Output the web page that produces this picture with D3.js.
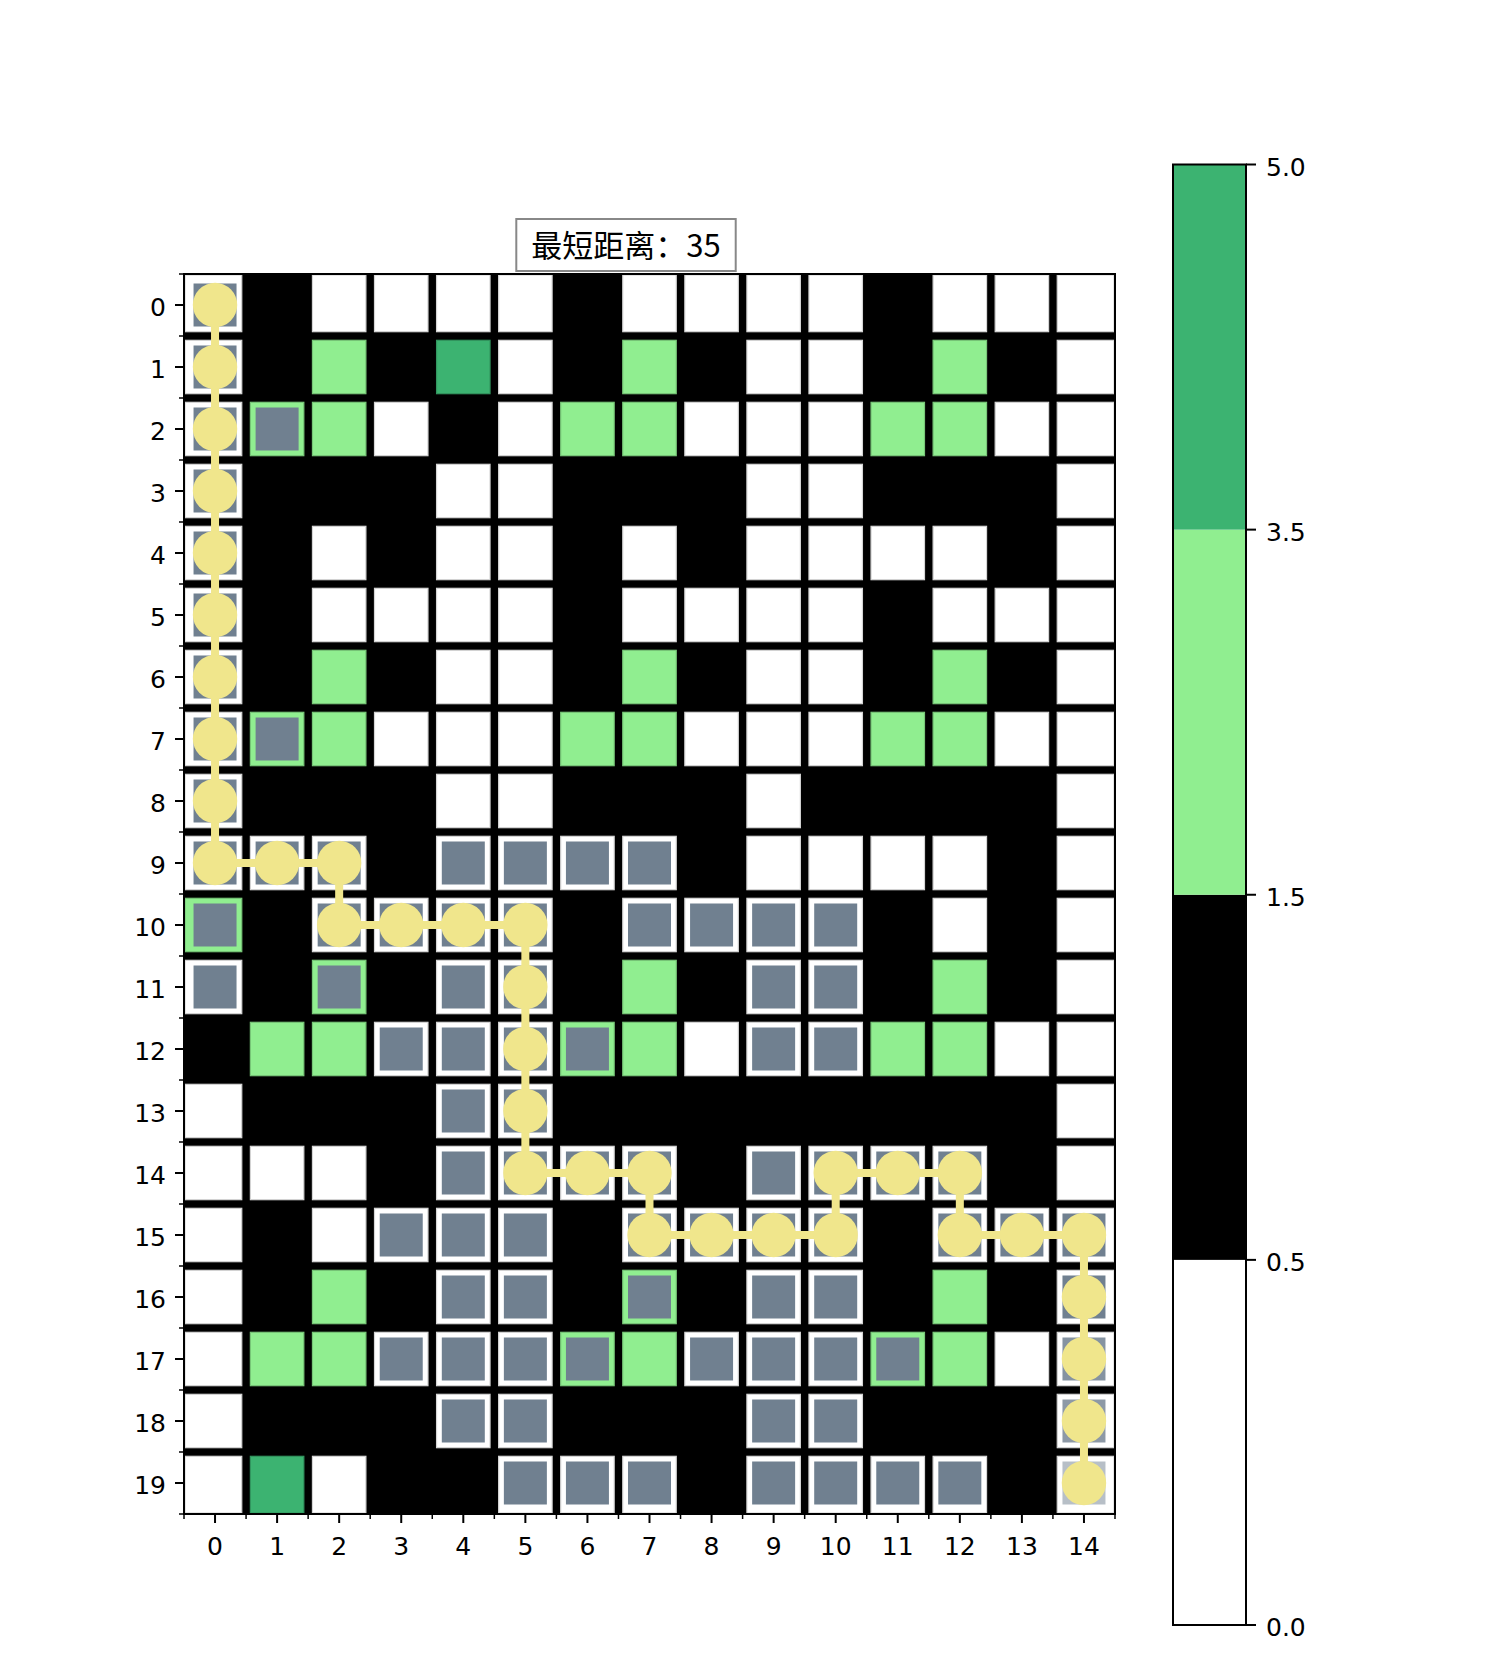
<!DOCTYPE html>
<html>
<head>
<meta charset="utf-8">
<script src="https://cdn.jsdelivr.net/npm/d3@7/dist/d3.min.js"></script>
<style>
  body { margin: 0; background: #fff; }
  text { font-family: "DejaVu Sans", sans-serif; }
</style>
</head>
<body>
<div id="container"></div>
<script>
// grid values: 0 free, 1 wall, 2 light cost, 4 heavy cost
let grid = [
  [0,1,0,0,0,0,1,0,0,0,0,1,0,0,0],
  [0,1,2,1,4,0,1,2,1,0,0,1,2,1,0],
  [0,2,2,0,1,0,2,2,0,0,0,2,2,0,0],
  [0,1,1,1,0,0,1,1,1,0,0,1,1,1,0],
  [0,1,0,1,0,0,1,0,1,0,0,0,0,1,0],
  [0,1,0,0,0,0,1,0,0,0,0,1,0,0,0],
  [0,1,2,1,0,0,1,2,1,0,0,1,2,1,0],
  [0,2,2,0,0,0,2,2,0,0,0,2,2,0,0],
  [0,1,1,1,0,0,1,1,1,0,1,1,1,1,0],
  [0,0,0,1,0,0,0,0,1,0,0,0,0,1,0],
  [2,1,0,0,0,0,1,0,0,0,0,1,0,1,0],
  [0,1,2,1,0,0,1,2,1,0,0,1,2,1,0],
  [1,2,2,0,0,0,2,2,0,0,0,2,2,0,0],
  [0,1,1,1,0,0,1,1,1,1,1,1,1,1,0],
  [0,0,0,1,0,0,0,0,1,0,0,0,0,1,0],
  [0,1,0,0,0,0,1,0,0,0,0,1,0,0,0],
  [0,1,2,1,0,0,1,2,1,0,0,1,2,1,0],
  [0,2,2,0,0,0,2,2,0,0,0,2,2,0,0],
  [0,1,1,1,0,0,1,1,1,0,0,1,1,1,0],
  [0,4,0,1,1,0,0,0,1,0,0,0,0,1,0]
];

// visited cells, column indices per row
let visitedRows = [
  [0], [0], [0,1], [0], [0], [0], [0], [0,1], [0],
  [0,1,2,4,5,6,7],
  [0,2,3,4,5,7,8,9,10],
  [0,2,4,5,9,10],
  [3,4,5,6,9,10],
  [4,5],
  [4,5,6,7,9,10,11,12],
  [3,4,5,7,8,9,10,12,13,14],
  [4,5,7,9,10,14],
  [3,4,5,6,8,9,10,11,14],
  [4,5,9,10,14],
  [5,6,7,9,10,11,12,14]
];
// last visited squares that are still fading in: [row, col, opacity]
let fading = [[17,14,0.85],[18,14,0.8],[19,14,0.5]];

// shortest path as [row, col]
let path = [
  [0,0],[1,0],[2,0],[3,0],[4,0],[5,0],[6,0],[7,0],[8,0],[9,0],
  [9,1],[9,2],[10,2],[10,3],[10,4],[10,5],[11,5],[12,5],[13,5],[14,5],
  [14,6],[14,7],[15,7],[15,8],[15,9],[15,10],[14,10],[14,11],[14,12],
  [15,12],[15,13],[15,14],[16,14],[17,14],[18,14],[19,14]
];

let cbBounds = [0, 0.5, 1.5, 3.5, 5.0];
let cbColors = ["white", "black", "lightgreen", "mediumseagreen"];
let cbLabels = ["0.0", "0.5", "1.5", "3.5", "5.0"];
let title = "最短距离：" + (path.length - 1);

let width = 1497;
let height = 1679;
let nRows = grid.length;
let nCols = grid[0].length;
let fontSize = 25;

let svg = d3.select("#container")
  .append("svg")
  .attr("width", width)
  .attr("height", height);

let x = d3.scaleLinear().domain([-0.5, nCols - 0.5]).range([184, 1115]);
let y = d3.scaleLinear().domain([-0.5, nRows - 0.5]).range([274, 1514]);

let color = d3.scaleThreshold()
  .domain(cbBounds.slice(1, -1))
  .range(cbColors);

let gap = 8.6;

let cells = [];
grid.forEach(function (row, r) {
  row.forEach(function (v, c) {
    cells.push({ r: r, c: c, v: v });
  });
});

let plot = svg.append("g");

plot.append("rect")
  .attr("x", x(-0.5)).attr("y", y(-0.5))
  .attr("width", x(nCols - 0.5) - x(-0.5))
  .attr("height", y(nRows - 0.5) - y(-0.5))
  .attr("fill", "black");

plot.selectAll("rect.cell").data(cells.filter(d => d.v !== 1))
  .enter().append("rect")
  .attr("class", "cell")
  .attr("x", d => x(d.c - 0.5) + (d.c === 0 ? 1 : gap / 2))
  .attr("y", d => y(d.r - 0.5) + (d.r === 0 ? 1 : gap / 2))
  .attr("width", d => x(d.c + 0.5) - x(d.c - 0.5) - (d.c === 0 ? 1 : gap / 2) - (d.c === nCols - 1 ? 1 : gap / 2))
  .attr("height", d => y(d.r + 0.5) - y(d.r - 0.5) - (d.r === 0 ? 1 : gap / 2) - (d.r === nRows - 1 ? 1 : gap / 2))
  .attr("fill", d => color(d.v))
  .attr("stroke", d => d3.color(color(d.v)).darker(0.5))
  .attr("stroke-width", 1.2);

// visited squares
let visited = [];
visitedRows.forEach(function (cols, r) {
  cols.forEach(function (c) {
    let f = fading.find(p => p[0] === r && p[1] === c);
    visited.push({ r: r, c: c, a: f ? f[2] : 1 });
  });
});

let sq = 43;
plot.selectAll("rect.visited").data(visited)
  .enter().append("rect")
  .attr("class", "visited")
  .attr("x", d => x(d.c) - sq / 2)
  .attr("y", d => y(d.r) - sq / 2)
  .attr("width", sq).attr("height", sq)
  .attr("fill", "slategray")
  .attr("fill-opacity", d => d.a);

// path
let line = d3.line()
  .x(d => x(d[1]))
  .y(d => y(d[0]));

plot.append("path")
  .datum(path)
  .attr("d", line)
  .attr("fill", "none")
  .attr("stroke", "khaki")
  .attr("stroke-width", 8);

plot.selectAll("circle.node").data(path)
  .enter().append("circle")
  .attr("class", "node")
  .attr("cx", d => x(d[1]))
  .attr("cy", d => y(d[0]))
  .attr("r", 22.2)
  .attr("fill", "khaki");

// frame
plot.append("rect")
  .attr("x", x(-0.5)).attr("y", y(-0.5))
  .attr("width", x(nCols - 0.5) - x(-0.5))
  .attr("height", y(nRows - 0.5) - y(-0.5))
  .attr("fill", "none")
  .attr("stroke", "black")
  .attr("stroke-width", 2);

// axes
let xAxis = svg.append("g").attr("transform", `translate(0,${y(nRows - 0.5)})`);
xAxis.selectAll("line.major").data(d3.range(nCols))
  .enter().append("line")
  .attr("x1", d => x(d)).attr("x2", d => x(d))
  .attr("y1", 0).attr("y2", 9)
  .attr("stroke", "black").attr("stroke-width", 2);
xAxis.selectAll("line.minor").data(d3.range(-0.5, nCols, 1))
  .enter().append("line")
  .attr("x1", d => x(d)).attr("x2", d => x(d))
  .attr("y1", 0).attr("y2", 5)
  .attr("stroke", "black").attr("stroke-width", 1.5);
xAxis.selectAll("text").data(d3.range(nCols))
  .enter().append("text")
  .attr("x", d => x(d))
  .attr("y", 41)
  .attr("text-anchor", "middle")
  .style("font-size", fontSize + "px")
  .text(d => d);

let yAxis = svg.append("g").attr("transform", `translate(${x(-0.5)},0)`);
yAxis.selectAll("line.major").data(d3.range(nRows))
  .enter().append("line")
  .attr("y1", d => y(d)).attr("y2", d => y(d))
  .attr("x1", 0).attr("x2", -9)
  .attr("stroke", "black").attr("stroke-width", 2);
yAxis.selectAll("line.minor").data(d3.range(-0.5, nRows, 1))
  .enter().append("line")
  .attr("y1", d => y(d)).attr("y2", d => y(d))
  .attr("x1", 0).attr("x2", -5)
  .attr("stroke", "black").attr("stroke-width", 1.5);
yAxis.selectAll("text").data(d3.range(nRows))
  .enter().append("text")
  .attr("x", -18)
  .attr("y", d => y(d) + 11)
  .attr("text-anchor", "end")
  .style("font-size", fontSize + "px")
  .text(d => d);

// title box
let titleX = 626;
let titleG = svg.append("g");
let titleText = titleG.append("text")
  .attr("x", titleX)
  .attr("y", 257)
  .attr("text-anchor", "middle")
  .style("font-family", "'Noto Sans CJK SC', sans-serif")
  .style("font-size", "31px")
  .text(title);
let tw = titleText.node().getComputedTextLength();
titleG.insert("rect", "text")
  .attr("x", titleX - tw / 2 - 15)
  .attr("y", 219)
  .attr("width", tw + 30)
  .attr("height", 52)
  .attr("fill", "white")
  .attr("stroke", "#888")
  .attr("stroke-width", 2);

// colorbar
let cbX = 1173;
let cbW = 73;
let cbY = d3.scaleLinear().domain([0, cbBounds.length - 1]).range([1625, 164.5]);

let cb = svg.append("g");
cb.selectAll("rect.seg").data(cbColors)
  .enter().append("rect")
  .attr("class", "seg")
  .attr("x", cbX)
  .attr("y", (d, i) => cbY(i + 1))
  .attr("width", cbW)
  .attr("height", (d, i) => cbY(i) - cbY(i + 1))
  .attr("fill", d => d);
cb.append("rect")
  .attr("x", cbX).attr("y", cbY(cbBounds.length - 1))
  .attr("width", cbW).attr("height", cbY(0) - cbY(cbBounds.length - 1))
  .attr("fill", "none")
  .attr("stroke", "black")
  .attr("stroke-width", 2);
cb.selectAll("line.tick").data(cbLabels)
  .enter().append("line")
  .attr("class", "tick")
  .attr("x1", cbX + cbW).attr("x2", cbX + cbW + 10)
  .attr("y1", (d, i) => cbY(i)).attr("y2", (d, i) => cbY(i))
  .attr("stroke", "black").attr("stroke-width", 2);
cb.selectAll("text").data(cbLabels)
  .enter().append("text")
  .attr("x", cbX + cbW + 20)
  .attr("y", (d, i) => cbY(i) + 11)
  .style("font-size", fontSize + "px")
  .text(d => d);
</script>
</body>
</html>
